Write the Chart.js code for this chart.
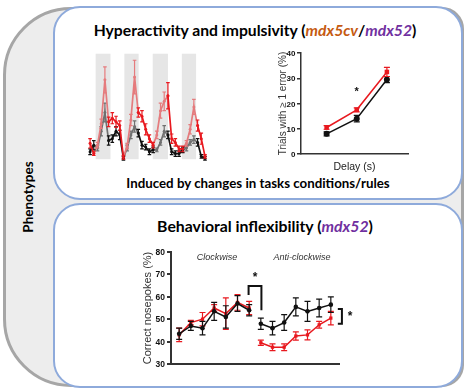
<!DOCTYPE html>
<html>
<head>
<meta charset="utf-8">
<script src="https://cdn.jsdelivr.net/npm/chart.js@4.4.1/dist/chart.umd.min.js"></script>
<style>
  html, body { margin: 0; padding: 0; background: #fff; }
  #fig { position: relative; width: 467px; height: 391px; overflow: hidden; font-family: Lato, "Open Sans", sans-serif; color: #000; }
  .frame { position: absolute; box-sizing: border-box; left: 3px; top: 7px; width: 461px; height: 380px;
           border: 3.5px solid #a6a6a6; border-radius: 68px 22px 22px 68px; background: #ededed; }
  .box { position: absolute; box-sizing: border-box; left: 53px; width: 410px; background: #fff;
         border: 2.5px solid #8eaadb; border-radius: 27px; }
  .txt { position: absolute; text-align: center; white-space: nowrap; font-weight: bold; }
  .side { position: absolute; left: 28px; top: 197px; transform: translate(-50%, -50%) rotate(-90deg);
          font-weight: bold; font-size: 13.5px; white-space: nowrap; }
  .orange { color: #c55a11; font-style: italic; }
  .purple { color: #7030a0; font-style: italic; }
  .phase { position: absolute; font: italic 9px "Liberation Sans", Arial, sans-serif; color: #333;
           transform: translate(-50%, -50%); white-space: nowrap; }
  .tick { position: absolute; transform: translate(-100%, -50%); color: #111; white-space: nowrap; line-height: 1; z-index: 5; }
  canvas { position: absolute; }
</style>
</head>
<body>
<div id="fig">
  <div class="frame"></div>
  <div class="box" style="top: 6px; height: 194px;"></div>
  <div class="box" style="top: 203px; height: 185px;"></div>
  <div class="side">Phenotypes</div>

  <div class="txt" style="left: 55px; width: 400px; top: 20px; font-size: 15.7px; line-height: 20px;">
    Hyperactivity and impulsivity (<span class="orange">mdx5cv</span>/<span class="purple">mdx52</span>)
  </div>
  <div class="txt" style="left: 58px; width: 400px; top: 175px; font-size: 13.3px; line-height: 16px;">
    Induced by changes in tasks conditions/rules
  </div>
  <div class="txt" style="left: 65px; width: 400px; top: 216px; font-size: 15.8px; line-height: 20px;">
    Behavioral inflexibility (<span class="purple">mdx52</span>)
  </div>

  <canvas id="hyperChart" width="130" height="120" style="left: 84px; top: 46px;"></canvas>
  <canvas id="errorChart" width="142" height="128" style="left: 270px; top: 45px;"></canvas>
  <canvas id="flexChart" width="225" height="128" style="left: 135px; top: 244px;"></canvas>

  <div class="phase" style="left: 217px; top: 256.5px;">Clockwise</div>
  <div class="phase" style="left: 302px; top: 256.5px;">Anti-clockwise</div>
</div>

<script>
// ---------- dados ----------
// Painel 1: sessões com mudança de regra (faixas cinzas), sem eixo legível
const hyperSteps = Array.from({ length: 32 }, (_, i) => i);
const hyperBands = [[1.5, 5.5], [9.25, 13.1], [16.9, 21], [24.75, 28.6]];

const hyperRed     = [17, 6, null, null, null, 40, 44, 40, 36, 2, null, null, null, 50, 46, 32, 22, 15, null, null, null, 68, 22, 18, 11, 11, null, null, null, 36, 22, 3];
const hyperRedErr  = [5, 2, null, null, null, 5, 6, 6, 5, 2, null, null, null, 5, 6, 6, 4, 3, null, null, null, 14, 5, 4, 3, 3, null, null, null, 6, 6, 2];
const hyperPink    = [null, 6, 15, 38, 85, 40, null, null, null, 2, 14, 42, 88, 50, null, null, null, 15, 26, 52, 62, 68, null, null, null, 11, 17, 32, 56, 36, null, null];
const hyperPinkErr = [null, null, 3, 5, 14, null, null, null, null, null, 3, 6, 18, null, null, null, null, null, 4, 8, 10, null, null, null, null, null, 3, 5, 8, null, null, null];
const hyperBlack   = [8, 15, null, null, null, 20, 22, 30, 26, 1, null, null, null, 28, 15, 13, 8, 10, null, null, null, 26, 8, 6, 6, 10, null, null, null, 18, 3, 1];
const hyperBlackErr= [3, 5, null, null, null, 5, 4, 5, 5, 2, null, null, null, 4, 4, 3, 3, 3, null, null, null, 4, 3, 3, 3, 3, null, null, null, 4, 2, 2];
const hyperGray    = [null, 15, 12, 30, 50, 20, null, null, null, 1, 12, 26, 35, 28, null, null, null, 10, 10, 18, 30, 26, null, null, null, 10, 12, 18, 21, 18, null, null];
const hyperGrayErr = [null, null, 3, 5, 10, null, null, null, null, null, 3, 4, 6, null, null, null, null, null, 2, 3, 6, null, null, null, null, null, 3, 3, 4, null, null, null];

// Painel 2: tentativas com >= 1 erro (%) por delay
const delays = [1, 2, 3];
const errorRed = [10.5, 17.5, 32.5];
const errorRedSem = [0.7, 0.8, 1.8];
const errorBlack = [8, 14, 29.5];
const errorBlackSem = [0.8, 1.3, 1.2];
const errorTicks = [0, 10, 20, 30, 40];

// Painel 3: nosepokes corretos (%) — 7 sessões horárias + 7 anti-horárias
const sessions = [1, 2, 3, 4, 5, 6, 7, 8, 9, 10, 11, 12, 13, 14];
const phaseBreak = 7;
const flexBlack = [43.5, 47, 46, 53.5, 51, 57, 54, 48, 46, 48.5, 55.5, 53.5, 55, 56.5];
const flexBlackErr = [2.5, 2, 3, 4, 5, 3.5, 2.5, 2.5, 3, 3.5, 4, 4.5, 4, 3.5];
const flexRed = [43, 48.5, 50, 55, 52.5, 57.5, 55, 39.5, 37.5, 37.5, 42.5, 43, 47.5, 50.5];
const flexRedErr = [3, 1, 3, 1.5, 7, 3.5, 3, 1.2, 1.5, 1.5, 1.8, 2.2, 1.5, 3];
const flexTicks = [30, 40, 50, 60, 70, 80];

const COLORS = {
  red: "#e8191f",
  pink: "#e57b7d",
  black: "#111111",
  gray: "#707070",
  axis: "#333333",
  band: "#e6e6e6",
};

Chart.defaults.animation = false;
Chart.defaults.font.family = "'Liberation Sans', Arial, sans-serif";

function toPoints(xs, ys, es) {
  return ys.map((v, i) => ({ x: xs[i], y: v, e: es ? es[i] : null }));
}

function withBreak(points, after) {
  const out = points.slice();
  out.splice(after, 0, { x: after + 0.5, y: null, e: null });
  return out;
}

// barras de erro desenhadas logo depois de cada dataset
const errorBarPlugin = {
  id: "errorBars",
  afterDatasetDraw(chart, args) {
    const ds = chart.data.datasets[args.index];
    if (!ds.errorBars) return;
    const { ctx } = chart;
    const x = chart.scales.x;
    const y = chart.scales.y;
    const cap = ds.capWidth || 2;
    ctx.save();
    ctx.strokeStyle = ds.borderColor;
    ctx.lineWidth = ds.errorWidth || 1.2;
    ctx.beginPath();
    ds.data.forEach((d) => {
      if (d.y == null || d.e == null) return;
      const px = x.getPixelForValue(d.x);
      const top = y.getPixelForValue(d.y + d.e);
      const bot = y.getPixelForValue(d.y - d.e);
      ctx.moveTo(px, top);
      ctx.lineTo(px, bot);
      ctx.moveTo(px - cap, top);
      ctx.lineTo(px + cap, top);
      ctx.moveTo(px - cap, bot);
      ctx.lineTo(px + cap, bot);
    });
    ctx.stroke();
    ctx.restore();
  },
};

const bandPlugin = {
  id: "bands",
  beforeDatasetsDraw(chart, args, opts) {
    const { ctx } = chart;
    const x = chart.scales.x;
    const y = chart.scales.y;
    ctx.save();
    ctx.fillStyle = opts.color;
    (opts.ranges || []).forEach(([a, b]) => {
      const x0 = x.getPixelForValue(a);
      const x1 = x.getPixelForValue(b);
      const y0 = y.getPixelForValue(opts.top);
      const y1 = y.getPixelForValue(opts.bottom);
      ctx.fillRect(x0, y0, x1 - x0, y1 - y0);
    });
    ctx.restore();
  },
};

const marksPlugin = {
  id: "marks",
  afterDraw(chart, args, opts) {
    const { ctx } = chart;
    const x = chart.scales.x;
    const y = chart.scales.y;
    ctx.save();
    ctx.strokeStyle = "#111";
    ctx.lineWidth = opts.lineWidth || 2;
    ctx.lineJoin = "miter";
    (opts.brackets || []).forEach((path) => {
      ctx.beginPath();
      path.forEach(([vx, vy], i) => {
        const px = x.getPixelForValue(vx);
        const py = y.getPixelForValue(vy);
        if (i) ctx.lineTo(px, py);
        else ctx.moveTo(px, py);
      });
      ctx.stroke();
    });
    ctx.fillStyle = "#111";
    ctx.font = opts.starFont || "bold 12px 'Liberation Sans'";
    ctx.textAlign = "center";
    ctx.textBaseline = "middle";
    (opts.stars || []).forEach(([vx, vy]) => {
      ctx.fillText("*", x.getPixelForValue(vx), y.getPixelForValue(vy));
    });
    ctx.restore();
  },
};

// rótulos do eixo y posicionados pela escala do próprio gráfico
function adicionarRotulosY(chart, valores, fonte, recuo) {
  const escala = chart.scales.y;
  const canvas = chart.canvas;
  const fig = document.getElementById("fig");
  valores.forEach((v) => {
    const el = document.createElement("div");
    el.className = "tick";
    el.textContent = String(v);
    el.style.font = fonte;
    el.style.left = canvas.offsetLeft + chart.chartArea.left - recuo + "px";
    el.style.top = canvas.offsetTop + escala.getPixelForValue(v) + "px";
    fig.appendChild(el);
  });
}

function lineSet(data, color, extra) {
  return Object.assign(
    {
      data: data,
      borderColor: color,
      backgroundColor: color,
      pointBackgroundColor: color,
      pointBorderColor: color,
      borderWidth: 1.7,
      pointRadius: 1.5,
      pointBorderWidth: 0,
      spanGaps: false,
      clip: false,
      errorBars: true,
    },
    extra || {}
  );
}

// ---------- painel 1 ----------
function criarGraficoHiper() {
  const ctx = document.getElementById("hyperChart").getContext("2d");
  return new Chart(ctx, {
    type: "line",
    data: {
      datasets: [
        lineSet(toPoints(hyperSteps, hyperRed, hyperRedErr), COLORS.red, { capWidth: 1.8 }),
        lineSet(toPoints(hyperSteps, hyperBlack, hyperBlackErr), COLORS.black, { capWidth: 1.8 }),
        lineSet(toPoints(hyperSteps, hyperPink, hyperPinkErr), COLORS.pink, { capWidth: 1.8 }),
        lineSet(toPoints(hyperSteps, hyperGray, hyperGrayErr), COLORS.gray, { capWidth: 1.8 }),
      ],
    },
    options: {
      responsive: false,
      layout: { padding: 0 },
      plugins: {
        legend: { display: false },
        tooltip: { enabled: false },
        bands: { ranges: hyperBands, color: COLORS.band, top: 113, bottom: 0 },
      },
      scales: {
        x: { type: "linear", min: -0.56, max: 32.35, display: false },
        y: { min: -3, max: 117, display: false },
      },
    },
    plugins: [bandPlugin, errorBarPlugin],
  });
}

// ---------- painel 2 ----------
function criarGraficoErros() {
  const ctx = document.getElementById("errorChart").getContext("2d");
  return new Chart(ctx, {
    type: "line",
    data: {
      datasets: [
        lineSet(toPoints(delays, errorRed, errorRedSem), COLORS.red, {
          pointStyle: "rect", pointRadius: 3.2, capWidth: 3, borderWidth: 1.5,
        }),
        lineSet(toPoints(delays, errorBlack, errorBlackSem), COLORS.black, {
          pointStyle: "circle", pointRadius: 3, capWidth: 3, borderWidth: 1.5,
        }),
      ],
    },
    options: {
      responsive: false,
      layout: { padding: { top: 8, right: 3, left: 0, bottom: 0 } },
      plugins: {
        legend: { display: false },
        tooltip: { enabled: false },
        marks: { stars: [[2, 24.5]], starFont: "bold 11px 'Liberation Sans'" },
      },
      scales: {
        x: {
          type: "linear",
          min: 0.15,
          max: 3.7,
          ticks: { display: false },
          grid: { display: false },
          border: { display: true, color: COLORS.axis, width: 1.5 },
          title: {
            display: true,
            text: "Delay (s)",
            color: "#222",
            font: { size: 10.5 },
            padding: { top: 0, bottom: 0 },
          },
          afterFit(scale) { scale.height = 19; },
        },
        y: {
          min: 0,
          max: 40,
          afterBuildTicks(scale) { scale.ticks = errorTicks.map((v) => ({ value: v })); },
          ticks: { display: false },
          grid: { drawOnChartArea: false, drawTicks: true, tickLength: 4, color: COLORS.axis, lineWidth: 1.5 },
          border: { display: true, color: COLORS.axis, width: 1.5 },
          title: {
            display: true,
            text: "Trials with \u2265 1 error (%)",
            color: "#333",
            font: { size: 10 },
            padding: { top: 7, bottom: 0 },
          },
          afterFit(scale) { scale.width = 31; },
        },
      },
    },
    plugins: [errorBarPlugin, marksPlugin],
  });
}

// ---------- painel 3 ----------
function criarGraficoFlex() {
  const ctx = document.getElementById("flexChart").getContext("2d");
  return new Chart(ctx, {
    type: "line",
    data: {
      datasets: [
        lineSet(withBreak(toPoints(sessions, flexBlack, flexBlackErr), phaseBreak), COLORS.black, {
          pointStyle: "circle", pointRadius: 2.3, capWidth: 3, borderWidth: 1.5,
        }),
        lineSet(withBreak(toPoints(sessions, flexRed, flexRedErr), phaseBreak), COLORS.red, {
          pointStyle: "rect", pointRadius: 2.3, capWidth: 3, borderWidth: 1.5,
        }),
      ],
    },
    options: {
      responsive: false,
      layout: { padding: { top: 8, right: 21, left: 0, bottom: 0 } },
      plugins: {
        legend: { display: false },
        tooltip: { enabled: false },
        marks: {
          lineWidth: 2,
          starFont: "bold 12px 'Liberation Sans'",
          brackets: [
            [[6.95, 60.8], [6.95, 64.8], [8.05, 64.8], [8.05, 54]],
            [[14.6, 54.5], [14.95, 54.5], [14.95, 48], [14.6, 48]],
          ],
          stars: [[7.5, 68.5], [15.65, 51]],
        },
      },
      scales: {
        x: {
          type: "linear",
          min: 0.3,
          max: 14.7,
          ticks: { display: false },
          grid: { display: false },
          border: { display: true, color: COLORS.axis, width: 2 },
          afterFit(scale) { scale.height = 8; },
        },
        y: {
          min: 30,
          max: 80,
          afterBuildTicks(scale) { scale.ticks = flexTicks.map((v) => ({ value: v })); },
          ticks: { display: false },
          grid: { drawOnChartArea: false, drawTicks: true, tickLength: 4, color: COLORS.axis, lineWidth: 2 },
          border: { display: true, color: COLORS.axis, width: 2 },
          title: {
            display: true,
            text: "Correct nosepokes (%)",
            color: "#333",
            font: { size: 11 },
            padding: { top: 6, bottom: 0 },
          },
          afterFit(scale) { scale.width = 36; },
        },
      },
    },
    plugins: [errorBarPlugin, marksPlugin],
  });
}

criarGraficoHiper();
const graficoErros = criarGraficoErros();
const graficoFlex = criarGraficoFlex();
adicionarRotulosY(graficoErros, errorTicks, "bold 8px 'Liberation Sans', Arial, sans-serif", 5.5);
adicionarRotulosY(graficoFlex, flexTicks, "bold 8.5px 'Liberation Sans', Arial, sans-serif", 6);
</script>
</body>
</html>
